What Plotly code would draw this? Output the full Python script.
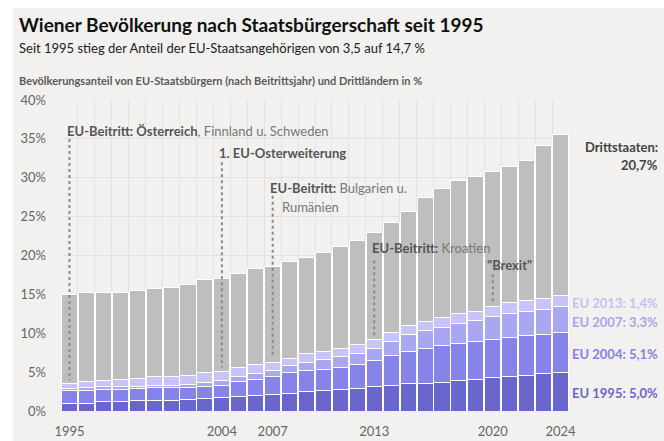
import plotly.graph_objects as go

years = list(range(1995, 2025))
eu1995 = [1.0, 1.0, 1.2, 1.2, 1.3, 1.4, 1.4, 1.5, 1.6, 1.7, 1.9, 2.0, 2.1, 2.3, 2.5,
          2.6, 2.8, 2.9, 3.1, 3.3, 3.5, 3.6, 3.7, 3.9, 4.0, 4.3, 4.4, 4.6, 4.8, 5.0]
eu2004 = [1.6, 1.6, 1.6, 1.6, 1.6, 1.6, 1.6, 1.5, 1.6, 1.6, 1.9, 2.1, 2.4, 2.6, 2.7,
          2.8, 2.8, 3.1, 3.4, 3.9, 4.2, 4.5, 4.7, 4.8, 4.9, 4.9, 5.1, 5.1, 5.1, 5.1]
eu2007 = [0.3, 0.4, 0.3, 0.3, 0.3, 0.3, 0.3, 0.4, 0.5, 0.6, 0.6, 0.7, 0.7, 0.9, 1.0,
          1.2, 1.4, 1.4, 1.6, 1.8, 2.1, 2.2, 2.4, 2.6, 2.7, 2.9, 3.1, 3.1, 3.2, 3.3]
eu2013 = [0.6, 0.8, 0.8, 0.9, 1.0, 1.1, 1.2, 1.2, 1.2, 1.2, 1.2, 1.2, 1.1, 1.0, 1.2,
          1.0, 1.0, 1.1, 1.1, 1.1, 1.2, 1.2, 1.2, 1.2, 1.2, 1.3, 1.3, 1.4, 1.4, 1.4]
dritt = [11.5, 11.4, 11.4, 11.3, 11.3, 11.3, 11.4, 11.7, 12.0, 12.0, 12.1, 12.3, 12.3, 12.4, 12.4,
         12.8, 13.1, 13.4, 13.8, 14.1, 14.6, 15.9, 16.6, 17.1, 17.4, 17.4, 17.6, 18.0, 19.7, 20.7]

year_ticks = [1995, 2004, 2007, 2013, 2020, 2024]
y_ticks = [0, 5, 10, 15, 20, 25, 30, 35, 40]
y_tick_labels = ["0%", "5%", "10%", "15%", "20%", "25%", "30%", "35%", "40%"]

series = [
    ("EU 1995", eu1995, "#6967cc"),
    ("EU 2004", eu2004, "#8684e8"),
    ("EU 2007", eu2007, "#a9a7f2"),
    ("EU 2013", eu2013, "#c6c4fa"),
    ("Drittstaaten", dritt, "#bebebe"),
]

W, H = 664, 441
L, R, T, B = 61, 95, 100, 30
pw, ph = W - L - R, H - T - B


def px(x):
    return (x - L) / pw


def py(y):
    return (H - B - y) / ph


FONT = "Lato"
PANEL = "#f2f1f0"

fig = go.Figure()
for name, vals, col in series:
    fig.add_trace(go.Bar(x=years, y=vals, name=name,
                         marker=dict(color=col, line=dict(color="white", width=1)),
                         hoverinfo="skip"))

shapes = [dict(type="rect", xref="paper", yref="paper", x0=px(13), x1=px(664),
               y0=py(8), y1=py(441), fillcolor=PANEL, line=dict(width=0), layer="below")]

# event marker lines
events = [(1995, 35.0, 4.0), (2004, 32.0, 5.6), (2007, 27.7, 7.0), (2013, 19.4, 9.7), (2020, 17.6, 13.8)]
for x, y0, y1 in events:
    shapes.append(dict(type="line", xref="x", yref="y", x0=x, x1=x, y0=y0, y1=y1,
                       line=dict(color="#8a8a8a", width=2, dash="dot")))

B_C = "#555555"
N_C = "#777777"
ann = []


def add(text, x, y, size, color, xanchor="left", bold=False):
    ann.append(dict(text=f"<b>{text}</b>" if bold else text, xref="paper", yref="paper",
                    x=px(x), y=py(y), xanchor=xanchor, yanchor="middle", showarrow=False,
                    font=dict(family=FONT, size=size, color=color)))


add("Wiener Bevölkerung nach Staatsbürgerschaft seit 1995", 17, 25, 19, "#111111", bold=True)
add("Seit 1995 stieg der Anteil der EU-Staatsangehörigen von 3,5 auf 14,7 %", 17, 48, 13, "#222222")
add("Bevölkerungsanteil von EU-Staatsbürgern (nach Beitrittsjahr) und Drittländern in %", 17, 80, 11, "#5a5a5a", bold=True)

add(f"<b>EU-Beitritt: Österreich</b><span style='color:{N_C}'>, Finnland u. Schweden</span>", 65, 131, 13, B_C)
add("1. EU-Osterweiterung", 217, 153, 13, B_C, bold=True)
add(f"<b>EU-Beitritt:</b><span style='color:{N_C}'> Bulgarien u.</span>", 268, 188, 13, B_C)
add("Rumänien", 280, 207, 13, N_C)
add(f"<b>EU-Beitritt:</b><span style='color:{N_C}'> Kroatien</span>", 370, 248, 13, B_C)
add('"Brexit"', 485, 265, 13, B_C, bold=True)

add("Drittstaaten:", 660, 147, 13, "#444444", xanchor="right", bold=True)
add("20,7%", 660, 165, 13, "#444444", xanchor="right", bold=True)
add("EU 2013: 1,4%", 660, 303, 13, "#c3c1f6", xanchor="right", bold=True)
add("EU 2007: 3,3%", 660, 322, 13, "#a8a6ee", xanchor="right", bold=True)
add("EU 2004: 5,1%", 660, 354, 13, "#8482e4", xanchor="right", bold=True)
add("EU 1995: 5,0%", 660, 393, 13, "#6a68cc", xanchor="right", bold=True)

fig.update_layout(
    width=W, height=H, margin=dict(l=L, r=R, t=T, b=B, pad=0),
    paper_bgcolor="white", plot_bgcolor="rgba(0,0,0,0)",
    barmode="stack", bargap=0.05, showlegend=False,
    shapes=shapes, annotations=ann,
    font=dict(family=FONT, size=13, color="#666666"),
    xaxis=dict(range=[1994.5, 2024.5], tickvals=year_ticks, showgrid=False, zeroline=False,
               ticks="", ticklabelstandoff=11, automargin=False,
               tickfont=dict(size=13, color="#666666"),
               minor=dict(tick0=1994.5, dtick=1, showgrid=True, gridcolor="#e3e2e1", gridwidth=1, ticks=""),
               fixedrange=True),
    yaxis=dict(range=[0, 40], tickvals=y_ticks, ticktext=y_tick_labels, showgrid=True, gridcolor="#e3e2e1",
               gridwidth=1, zeroline=False, ticks="", ticklabelstandoff=14, automargin=False,
               tickfont=dict(size=13, color="#666666"), fixedrange=True),
)

fig.write_html("out.html")
